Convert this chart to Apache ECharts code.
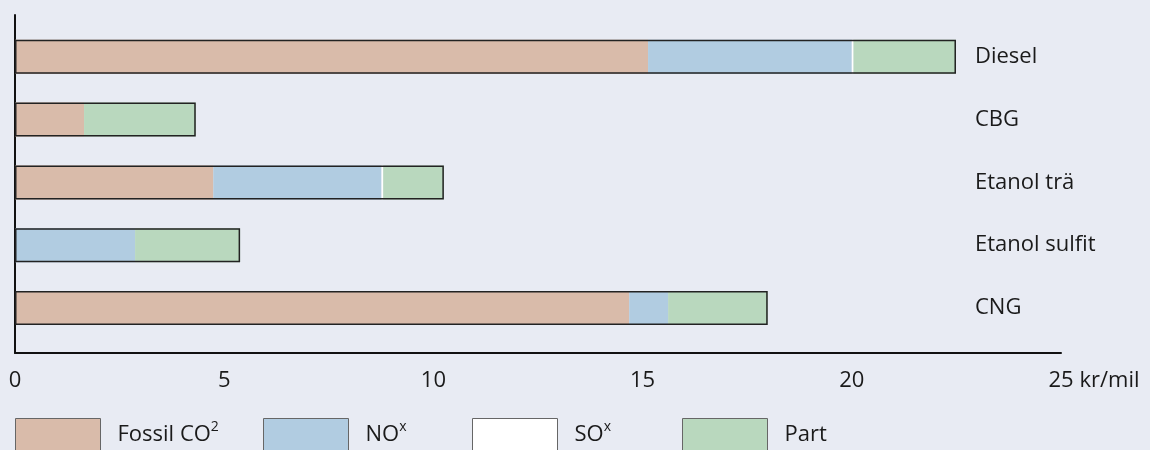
<!DOCTYPE html>
<html>
<head>
<meta charset="utf-8">
<script src="https://cdn.jsdelivr.net/npm/echarts@6/dist/echarts.min.js"></script>
<style>
  html, body { margin: 0; padding: 0; background: #e8ebf3; }
  #chart { width: 1150px; height: 450px; }
</style>
</head>
<body>
<div id="chart"></div>
<script>
// ---- data ----
const categories = ['Diesel', 'CBG', 'Etanol trä', 'Etanol sulfit', 'CNG'];
const fossilCO2 = [15.13, 1.65, 4.74, 0, 14.68];
const nox       = [4.87, 0, 4.02, 2.87, 0.93];
const sox       = [0.04, 0, 0.04, 0, 0];
const part      = [2.45, 2.67, 1.45, 2.51, 2.38];
const xTicks = ['0', '5', '10', '15', '20', '25'];
const xUnit = 'kr/mil';
const seriesNames = ['Fossil CO2', 'NOx', 'SOx', 'Part'];
const legendLabels = ['{t|Fossil CO}{s|2}', '{t|NO}{s|x}', '{t|SO}{s|x}', '{t|Part}'];

const totals = categories.map((c, i) => fossilCO2[i] + nox[i] + sox[i] + part[i]);

const FONT = '"Open Sans", "Liberation Sans", sans-serif';
const TXT = '#1a1a1a';
const colors = ['#d9bbaa', '#b1cce1', '#ffffff', '#b9d8be'];
const values = [fossilCO2, nox, sox, part];

const chart = echarts.init(document.getElementById('chart'));

const legendLefts = [15, 263, 472, 682];
const legends = seriesNames.map((n, i) => ({
  data: [n],
  left: legendLefts[i],
  top: 418,
  padding: 0,
  itemWidth: 85,
  itemHeight: 32,
  icon: 'rect',
  selectedMode: false,
  itemStyle: { borderColor: '#666', borderWidth: 1 },
  formatter: () => legendLabels[i],
  textStyle: {
    color: TXT,
    fontFamily: FONT,
    fontSize: 22,
    padding: [0, 0, 0, 12],
    rich: {
      t: { fontFamily: FONT, fontSize: 22, color: TXT },
      s: { fontFamily: FONT, fontSize: 14, lineHeight: 14, color: TXT,
           verticalAlign: 'middle', padding: [0, 0, 15, 0] }
    }
  }
}));

const stackSeries = seriesNames.map((n, i) => ({
  name: n,
  type: 'bar',
  stack: 'total',
  xAxisIndex: 1,
  yAxisIndex: 1,
  barWidth: 34,
  z: 2,
  silent: true,
  itemStyle: { color: colors[i], borderWidth: 0 },
  data: values[i]
}));

const option = {
  backgroundColor: '#e8ebf3',
  animation: false,
  legend: legends,
  grid: [
    { left: 15, right: 89, top: 15, bottom: 97 },
    { left: 15, right: 89, top: 25.4, bottom: 110.6 }
  ],
  xAxis: [
    {
      type: 'value', gridIndex: 0, min: 0, max: 25, interval: 5,
      axisLine: { show: true, lineStyle: { color: '#111', width: 2 } },
      axisTick: { show: false },
      splitLine: { show: false },
      axisLabel: {
        color: TXT, fontFamily: FONT, fontSize: 22, margin: 17,
        showMinLabel: true, showMaxLabel: true,
        formatter: (v) => xTicks[Math.round(v / 5)]
      },
      name: xUnit,
      nameLocation: 'end',
      nameGap: 18,
      nameTextStyle: {
        color: TXT, fontFamily: FONT, fontSize: 22,
        verticalAlign: 'top', align: 'left', padding: [17, 0, 0, 0]
      }
    },
    {
      type: 'value', gridIndex: 1, min: 0, max: 25, show: false
    }
  ],
  yAxis: [
    {
      type: 'value', gridIndex: 0, min: 0, max: 1,
      axisLine: { show: true, lineStyle: { color: '#111', width: 2 } },
      axisTick: { show: false },
      axisLabel: { show: false },
      splitLine: { show: false }
    },
    {
      type: 'category', gridIndex: 1, data: categories, inverse: true,
      position: 'right', offset: -86,
      axisLine: { show: false },
      axisTick: { show: false },
      splitLine: { show: false },
      axisLabel: {
        color: TXT, fontFamily: FONT, fontSize: 22, margin: 0,
        align: 'left', padding: [0, 0, 7, 0]
      }
    }
  ],
  series: stackSeries.concat([{
    name: 'outline',
    type: 'bar',
    xAxisIndex: 1,
    yAxisIndex: 1,
    barWidth: 34,
    barGap: '-100%',
    z: 3,
    silent: true,
    itemStyle: { color: 'rgba(0,0,0,0)', borderColor: '#222', borderWidth: 1.5 },
    data: totals
  }])
};

chart.setOption(option);
</script>
</body>
</html>
